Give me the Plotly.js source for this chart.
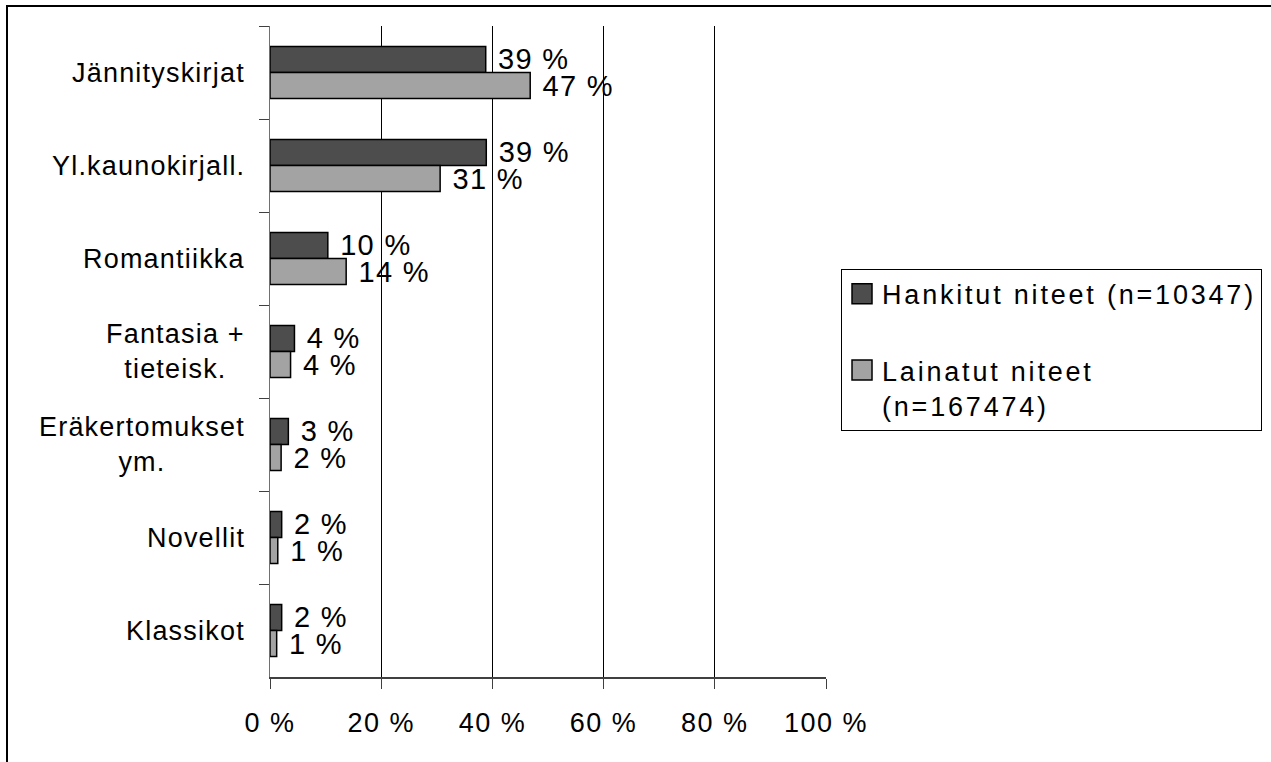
<!DOCTYPE html>
<html>
<head>
<meta charset="utf-8">
<script src="https://cdn.plot.ly/plotly-3.0.1.min.js"></script>
<style>
  html, body { margin: 0; padding: 0; background: #fff; }
  #wrap { position: relative; width: 1271px; height: 762px; overflow: hidden; }
  #chart { width: 1271px; height: 762px; }
  /* chart-area frame: only the top and left edges fall inside the page */
  #frame { position: absolute; left: 6px; top: 5px; width: 1300px; height: 800px;
           border-left: 2px solid #000; border-top: 2px solid #000; pointer-events: none; }
  /* slightly wider lettering, like the office-suite rendering */
  .annotation-text { letter-spacing: 1.2px; }
  .xtick text { letter-spacing: 1.5px; }
  .bartext { letter-spacing: 1.3px; }
  .legendtext { letter-spacing: 2.8px; }
</style>
</head>
<body>
<div id="wrap"><div id="chart"></div><div id="frame"></div></div>
<script>
// Genre categories, top to bottom
const categories = [
  'Jännityskirjat',
  'Yl.kaunokirjall.',
  'Romantiikka',
  'Fantasia +<br>tieteisk.',
  'Eräkertomukset<br>ym.',
  'Novellit',
  'Klassikot'
];

// Series names
const seriesNames = ['Hankitut niteet (n=10347)', 'Lainatut niteet<br>(n=167474)'];

// Share of volumes per genre, percent
const hankitut = [38.8, 38.9, 10.4, 4.4, 3.3, 2.1, 2.1];
const lainatut = [46.8, 30.6, 13.7, 3.7, 2.0, 1.4, 1.2];

// Value axis ticks
const tickValues = [0, 20, 40, 60, 80, 100];
const tickLabels = ['0 %', '20 %', '40 %', '60 %', '80 %', '100 %'];

const FONT = 'Liberation Sans, Arial, sans-serif';
const seriesColors = ['#4d4d4d', '#a3a3a3'];

function barTrace(values, idx) {
  return {
    type: 'bar',
    orientation: 'h',
    name: seriesNames[idx],
    legendgroup: 'g' + idx,
    y: categories,
    x: values,
    marker: { color: seriesColors[idx], line: { color: '#000', width: 1.5 } },
    texttemplate: '\u00a0%{x:.0f} %',
    textposition: 'outside',
    textfont: { family: FONT, size: 29, color: '#000' },
    constraintext: 'none',
    cliponaxis: false,
    hoverinfo: 'skip'
  };
}

const data = [barTrace(hankitut, 0), barTrace(lainatut, 1)];

const layout = {
  width: 1271,
  height: 762,
  margin: { l: 270, r: 445, t: 26, b: 85, pad: 0, autoexpand: false },
  paper_bgcolor: '#fff',
  plot_bgcolor: '#fff',
  font: { family: FONT, color: '#000' },
  barmode: 'group',
  bargap: 0.44,
  bargroupgap: 0,
  showlegend: true,
  xaxis: {
    range: [0, 100],
    tickmode: 'array',
    tickvals: tickValues,
    ticktext: tickLabels,
    showgrid: true,
    gridcolor: '#000',
    gridwidth: 1,
    zeroline: false,
    showline: true,
    linecolor: '#404040',
    linewidth: 2,
    ticks: 'outside',
    ticklen: 10,
    tickcolor: '#404040',
    tickwidth: 1,
    tickfont: { family: FONT, size: 27, color: '#000' },
    ticklabelstandoff: 11,
    automargin: false,
    fixedrange: true
  },
  yaxis: {
    type: 'category',
    categoryorder: 'array',
    categoryarray: categories,
    autorange: 'reversed',
    showline: true,
    linecolor: '#707070',
    linewidth: 1.5,
    ticks: 'outside',
    ticklen: 10,
    tickcolor: '#404040',
    tickwidth: 1,
    tickson: 'boundaries',
    showticklabels: false,
    showgrid: false,
    zeroline: false,
    automargin: false,
    fixedrange: true
  },
  legend: {
    x: 1.027, xanchor: 'left',
    y: 0.627, yanchor: 'top',
    bgcolor: '#fff',
    bordercolor: '#000',
    borderwidth: 1,
    font: { family: FONT, size: 27, color: '#000' },
    valign: 'top',
    traceorder: 'grouped',
    tracegroupgap: 38
  },
  annotations: categories.map(c => ({
    xref: 'paper', yref: 'y',
    x: 0, y: c,
    xanchor: 'right', xshift: -23,
    align: 'center',
    showarrow: false,
    text: c,
    font: { family: FONT, size: 27, color: '#000' }
  }))
};

Plotly.newPlot('chart', data, layout, { displayModeBar: false, staticPlot: true }).then(gd => {
  // enlarge the legend swatches to 20 px squares
  gd.querySelectorAll('.legend .legendpoints path').forEach(p => {
    p.setAttribute('d', 'M10,10H-10V-10H10Z');
  });
});
</script>
</body>
</html>
